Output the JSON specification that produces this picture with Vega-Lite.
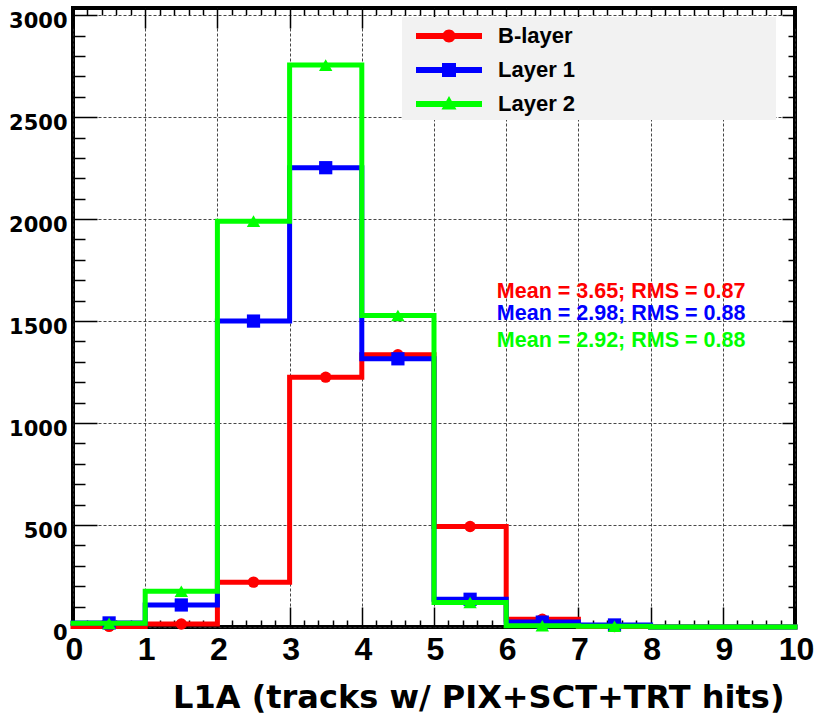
{
  "$schema": "https://vega.github.io/schema/vega-lite/v6.json",
  "width": 722,
  "height": 619,
  "autosize": "none",
  "padding": {"left": 73, "top": 8, "right": 24, "bottom": 95},
  "background": "white",
  "config": {
    "view": {"stroke": "#000", "strokeWidth": 4},
    "axis": {"domain": false, "labels": false, "ticks": false, "grid": false, "title": null, "tickColor": "#000", "tickWidth": 1.5, "tickOpacity": 1}
  },
  "datasets": {
    "hist": [
      {"layer": "B-layer", "lo": 0, "hi": 1, "count": 3},
      {"layer": "B-layer", "lo": 1, "hi": 2, "count": 15},
      {"layer": "B-layer", "lo": 2, "hi": 3, "count": 220},
      {"layer": "B-layer", "lo": 3, "hi": 4, "count": 1225},
      {"layer": "B-layer", "lo": 4, "hi": 5, "count": 1335},
      {"layer": "B-layer", "lo": 5, "hi": 6, "count": 493},
      {"layer": "B-layer", "lo": 6, "hi": 7, "count": 38},
      {"layer": "B-layer", "lo": 7, "hi": 8, "count": 2},
      {"layer": "B-layer", "lo": 8, "hi": 9, "count": 0},
      {"layer": "B-layer", "lo": 9, "hi": 10, "count": 0},
      {"layer": "Layer 1", "lo": 0, "hi": 1, "count": 20},
      {"layer": "Layer 1", "lo": 1, "hi": 2, "count": 108},
      {"layer": "Layer 1", "lo": 2, "hi": 3, "count": 1500},
      {"layer": "Layer 1", "lo": 3, "hi": 4, "count": 2252},
      {"layer": "Layer 1", "lo": 4, "hi": 5, "count": 1315},
      {"layer": "Layer 1", "lo": 5, "hi": 6, "count": 136},
      {"layer": "Layer 1", "lo": 6, "hi": 7, "count": 24},
      {"layer": "Layer 1", "lo": 7, "hi": 8, "count": 10},
      {"layer": "Layer 1", "lo": 8, "hi": 9, "count": 0},
      {"layer": "Layer 1", "lo": 9, "hi": 10, "count": 0},
      {"layer": "Layer 2", "lo": 0, "hi": 1, "count": 18},
      {"layer": "Layer 2", "lo": 1, "hi": 2, "count": 175},
      {"layer": "Layer 2", "lo": 2, "hi": 3, "count": 1990},
      {"layer": "Layer 2", "lo": 3, "hi": 4, "count": 2755},
      {"layer": "Layer 2", "lo": 4, "hi": 5, "count": 1527},
      {"layer": "Layer 2", "lo": 5, "hi": 6, "count": 120},
      {"layer": "Layer 2", "lo": 6, "hi": 7, "count": 6},
      {"layer": "Layer 2", "lo": 7, "hi": 8, "count": 4},
      {"layer": "Layer 2", "lo": 8, "hi": 9, "count": 0},
      {"layer": "Layer 2", "lo": 9, "hi": 10, "count": 0}
    ],
    "stats": [
      {"layer": "B-layer", "label": "Mean = 3.65; RMS = 0.87"},
      {"layer": "Layer 1", "label": "Mean = 2.98; RMS = 0.88"},
      {"layer": "Layer 2", "label": "Mean = 2.92; RMS = 0.88"}
    ]
  },
  "layer": [
    {
      "data": {"values": [{"box": "legend"}]},
      "mark": {"type": "rect", "color": "#f2f2f2", "opacity": 1},
      "encoding": {
        "x": {"datum": 4.557, "type": "quantitative", "scale": {"domain": [0, 10], "nice": false, "zero": false}, "axis": null},
        "x2": {"datum": 9.737},
        "y": {"datum": 2991, "type": "quantitative", "scale": {"domain": [0, 3035], "nice": false}, "axis": null},
        "y2": {"datum": 2486}
      }
    },
    {
      "data": {"name": "hist"},
      "transform": [{"filter": "datum.layer === 'B-layer'"}, {"fold": ["lo", "hi"], "as": ["edge", "x"]}],
      "mark": {"type": "line", "strokeWidth": 5, "strokeJoin": "miter", "strokeCap": "square"},
      "encoding": {
        "x": {"field": "x", "type": "quantitative", "scale": {"domain": [0, 10], "nice": false, "zero": false},
          "axis": {"orient": "bottom", "values": [0,1,2,3,4,5,6,7,8,9,10], "labels": true, "labelFont": "Liberation Sans", "labelFontSize": 32, "labelFontWeight": "bold", "labelColor": "#000", "labelPadding": 7, "labelOffset": 1, "labelFlush": false, "labelOverlap": false, "labelBound": false,
            "grid": true, "gridColor": "#333", "gridDash": [3, 2], "gridWidth": 1, "gridOpacity": 0.9,
            "title": "L1A (tracks w/ PIX+SCT+TRT hits)", "titleFont": "DejaVu Sans", "titleFontSize": 32, "titleFontWeight": "bold", "titleColor": "#000", "titleAnchor": "end", "titleAlign": "right", "titleBaseline": "alphabetic", "titleX": 711, "titleY": 80}},
        "y": {"field": "count", "type": "quantitative", "scale": {"domain": [0, 3035], "nice": false},
          "axis": {"orient": "left", "values": [0,500,1000,1500,2000,2500,3000], "format": "d", "labels": true, "labelFont": "DejaVu Sans", "labelFontSize": 21, "labelFontWeight": "bold", "labelColor": "#000", "labelPadding": 6, "labelOffset": 6, "labelFlush": false, "labelOverlap": false, "labelBound": false,
            "grid": true, "gridColor": "#333", "gridDash": [3, 2], "gridWidth": 1, "gridOpacity": 0.9}},
        "color": {"field": "layer", "type": "nominal", "scale": {"domain": ["B-layer", "Layer 1", "Layer 2"], "range": ["#ff0000", "#0000ff", "#00ff00"]},
          "legend": {"orient": "none", "legendX": 329, "legendY": 9, "title": null, "padding": 8, "fillColor": null, "strokeColor": null,
            "symbolSize": 400, "labelOffset": 66, "labelFont": "Liberation Sans", "labelFontSize": 22, "labelFontWeight": "bold", "labelColor": "#000", "rowPadding": 12, "labelLimit": 0,
            "encode": {
              "symbols": {"update": {
                "shape": {"signal": "datum.value === 'B-layer' ? 'M-0.5,-0.3H6.1V0.3H-0.5Z M2.15,0A0.65,0.65 0 1,1 3.45,0A0.65,0.65 0 1,1 2.15,0Z' : datum.value === 'Layer 1' ? 'M-0.5,-0.3H6.1V0.3H-0.5Z M2.1,-0.7H3.5V0.7H2.1Z' : 'M-0.5,-0.3H6.1V0.3H-0.5Z M2.8,-0.8L3.55,0.55H2.05Z'"},
                "fill": {"signal": "datum.value === 'B-layer' ? '#ff0000' : datum.value === 'Layer 1' ? '#0000ff' : '#00ff00'"},
                "stroke": {"value": "transparent"},
                "strokeWidth": {"value": 0},
                "opacity": {"value": 1},
                "size": {"value": 400}
              }}
            }}
        },
        "order": [{"field": "x", "type": "quantitative"}, {"field": "edge", "type": "nominal"}]
      }
    },
    {
      "data": {"name": "hist"},
      "transform": [{"filter": "datum.layer === 'B-layer' && datum.count > 0"}, {"fold": ["lo", "hi"], "as": ["edge", "x"]}],
      "mark": {"type": "point", "shape": "circle", "filled": true, "size": 130, "opacity": 1},
      "encoding": {
        "x": {"field": "x", "aggregate": "mean", "type": "quantitative", "scale": {"domain": [0, 10], "nice": false, "zero": false},
          "axis": {"orient": "bottom", "values": [0,1,2,3,4,5,6,7,8,9,10], "ticks": true, "tickSize": -20}},
        "y": {"field": "count", "type": "quantitative", "scale": {"domain": [0, 3035], "nice": false},
          "axis": {"orient": "left", "values": [0,500,1000,1500,2000,2500,3000], "ticks": true, "tickSize": -24}},
        "color": {"field": "layer", "type": "nominal", "scale": {"domain": ["B-layer", "Layer 1", "Layer 2"], "range": ["#ff0000", "#0000ff", "#00ff00"]}},
        "detail": {"field": "lo", "type": "quantitative"}
      }
    },
    {
      "data": {"name": "hist"},
      "transform": [{"filter": "datum.layer === 'Layer 1'"}, {"fold": ["lo", "hi"], "as": ["edge", "x"]}],
      "mark": {"type": "line", "strokeWidth": 5, "strokeJoin": "miter", "strokeCap": "square"},
      "encoding": {
        "x": {"field": "x", "type": "quantitative", "scale": {"domain": [0, 10], "nice": false, "zero": false},
          "axis": {"orient": "bottom", "values": [0.2,0.4,0.6,0.8,1.2,1.4,1.6,1.8,2.2,2.4,2.6,2.8,3.2,3.4,3.6,3.8,4.2,4.4,4.6,4.8,5.2,5.4,5.6,5.8,6.2,6.4,6.6,6.8,7.2,7.4,7.6,7.8,8.2,8.4,8.6,8.8,9.2,9.4,9.6,9.8], "ticks": true, "tickSize": -7}},
        "y": {"field": "count", "type": "quantitative", "scale": {"domain": [0, 3035], "nice": false},
          "axis": {"orient": "left", "values": [100,200,300,400,600,700,800,900,1100,1200,1300,1400,1600,1700,1800,1900,2100,2200,2300,2400,2600,2700,2800,2900], "ticks": true, "tickSize": -12}},
        "color": {"field": "layer", "type": "nominal", "scale": {"domain": ["B-layer", "Layer 1", "Layer 2"], "range": ["#ff0000", "#0000ff", "#00ff00"]}},
        "order": [{"field": "x", "type": "quantitative"}, {"field": "edge", "type": "nominal"}]
      }
    },
    {
      "data": {"name": "hist"},
      "transform": [{"filter": "datum.layer === 'Layer 1' && datum.count > 0"}, {"fold": ["lo", "hi"], "as": ["edge", "x"]}],
      "mark": {"type": "point", "shape": "square", "filled": true, "size": 175, "opacity": 1},
      "encoding": {
        "x": {"field": "x", "aggregate": "mean", "type": "quantitative", "scale": {"domain": [0, 10], "nice": false, "zero": false},
          "axis": {"orient": "top", "values": [0,1,2,3,4,5,6,7,8,9,10], "ticks": true, "tickSize": -20}},
        "y": {"field": "count", "type": "quantitative", "scale": {"domain": [0, 3035], "nice": false},
          "axis": {"orient": "right", "values": [0,500,1000,1500,2000,2500,3000], "ticks": true, "tickSize": -13}},
        "color": {"field": "layer", "type": "nominal", "scale": {"domain": ["B-layer", "Layer 1", "Layer 2"], "range": ["#ff0000", "#0000ff", "#00ff00"]}},
        "detail": {"field": "lo", "type": "quantitative"}
      }
    },
    {
      "data": {"name": "hist"},
      "transform": [{"filter": "datum.layer === 'Layer 2'"}, {"fold": ["lo", "hi"], "as": ["edge", "x"]}],
      "mark": {"type": "line", "strokeWidth": 5, "strokeJoin": "miter", "strokeCap": "square"},
      "encoding": {
        "x": {"field": "x", "type": "quantitative", "scale": {"domain": [0, 10], "nice": false, "zero": false},
          "axis": {"orient": "top", "values": [0.2,0.4,0.6,0.8,1.2,1.4,1.6,1.8,2.2,2.4,2.6,2.8,3.2,3.4,3.6,3.8,4.2,4.4,4.6,4.8,5.2,5.4,5.6,5.8,6.2,6.4,6.6,6.8,7.2,7.4,7.6,7.8,8.2,8.4,8.6,8.8,9.2,9.4,9.6,9.8], "ticks": true, "tickSize": -7}},
        "y": {"field": "count", "type": "quantitative", "scale": {"domain": [0, 3035], "nice": false},
          "axis": {"orient": "right", "values": [100,200,300,400,600,700,800,900,1100,1200,1300,1400,1600,1700,1800,1900,2100,2200,2300,2400,2600,2700,2800,2900], "ticks": true, "tickSize": -7}},
        "color": {"field": "layer", "type": "nominal", "scale": {"domain": ["B-layer", "Layer 1", "Layer 2"], "range": ["#ff0000", "#0000ff", "#00ff00"]}},
        "order": [{"field": "x", "type": "quantitative"}, {"field": "edge", "type": "nominal"}]
      }
    },
    {
      "data": {"name": "hist"},
      "transform": [{"filter": "datum.layer === 'Layer 2' && datum.count > 0"}, {"fold": ["lo", "hi"], "as": ["edge", "x"]}],
      "mark": {"type": "point", "shape": "triangle-up", "filled": true, "size": 180, "opacity": 1},
      "encoding": {
        "x": {"field": "x", "aggregate": "mean", "type": "quantitative", "scale": {"domain": [0, 10], "nice": false, "zero": false}, "axis": null},
        "y": {"field": "count", "type": "quantitative", "scale": {"domain": [0, 3035], "nice": false}, "axis": null},
        "color": {"field": "layer", "type": "nominal", "scale": {"domain": ["B-layer", "Layer 1", "Layer 2"], "range": ["#ff0000", "#0000ff", "#00ff00"]}},
        "detail": {"field": "lo", "type": "quantitative"}
      }
    },
    {
      "data": {"name": "stats"},
      "transform": [{"filter": "datum.layer === 'B-layer'"}],
      "mark": {"type": "text", "color": "#ff0000", "font": "Liberation Sans", "fontWeight": "bold", "fontSize": 21.5, "align": "left", "baseline": "alphabetic"},
      "encoding": {
        "x": {"datum": 5.87, "type": "quantitative", "axis": null},
        "y": {"datum": 1615, "type": "quantitative", "axis": null},
        "text": {"field": "label", "type": "nominal"}
      }
    },
    {
      "data": {"name": "stats"},
      "transform": [{"filter": "datum.layer === 'Layer 1'"}],
      "mark": {"type": "text", "color": "#0000ff", "font": "Liberation Sans", "fontWeight": "bold", "fontSize": 21.5, "align": "left", "baseline": "alphabetic"},
      "encoding": {
        "x": {"datum": 5.87, "type": "quantitative", "axis": null},
        "y": {"datum": 1503, "type": "quantitative", "axis": null},
        "text": {"field": "label", "type": "nominal"}
      }
    },
    {
      "data": {"name": "stats"},
      "transform": [{"filter": "datum.layer === 'Layer 2'"}],
      "mark": {"type": "text", "color": "#00ff00", "font": "Liberation Sans", "fontWeight": "bold", "fontSize": 21.5, "align": "left", "baseline": "alphabetic"},
      "encoding": {
        "x": {"datum": 5.87, "type": "quantitative", "axis": null},
        "y": {"datum": 1375, "type": "quantitative", "axis": null},
        "text": {"field": "label", "type": "nominal"}
      }
    }
  ],
  "resolve": {"axis": {"x": "independent", "y": "independent"}}
}
